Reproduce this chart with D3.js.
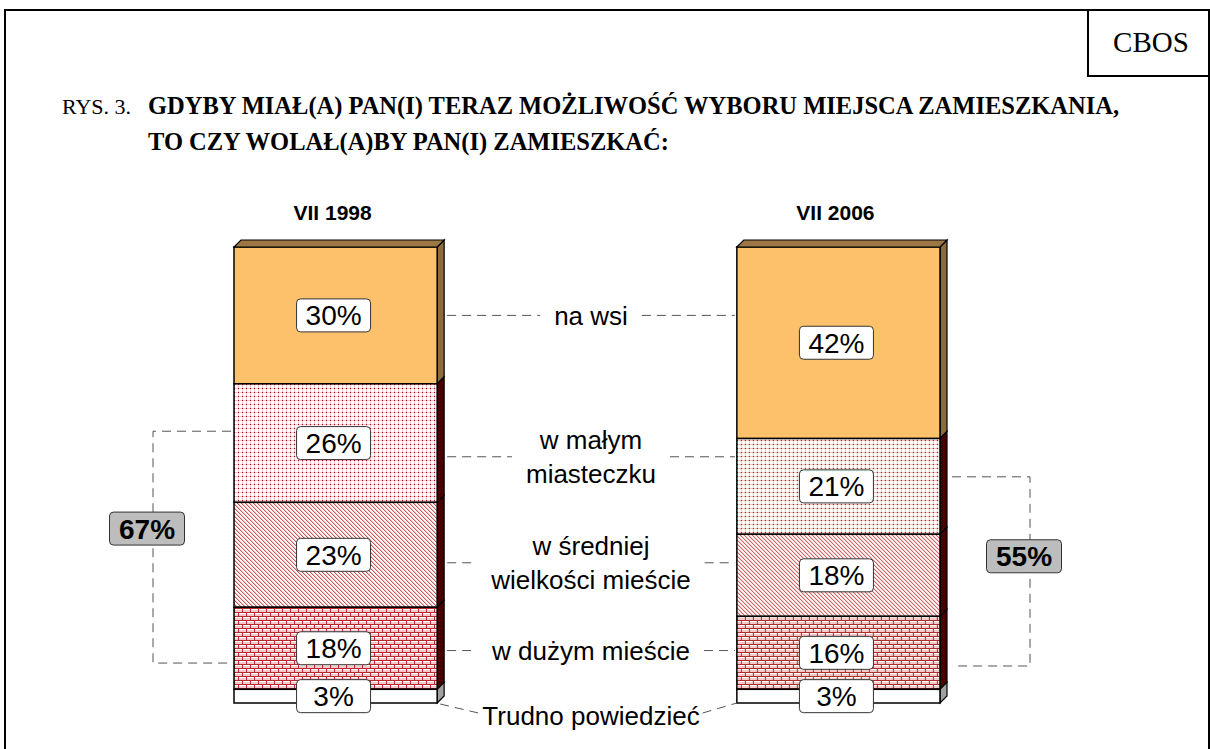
<!DOCTYPE html>
<html>
<head>
<meta charset="utf-8">
<script src="https://cdn.jsdelivr.net/npm/d3@7"></script>
<style>
  body { margin: 0; background: #fff; }
  svg { display: block; }
</style>
</head>
<body>
<svg></svg>
<script>
// CBOS rys. 3 – preferowane miejsce zamieszkania, 1998 vs 2006

const width = 1210;
const height = 749;

const years = ["VII 1998", "VII 2006"];
const categories = ["na wsi", "w małym miasteczku", "w średniej wielkości mieście", "w dużym mieście", "Trudno powiedzieć"];
const categoryLines = [["na wsi"], ["w małym", "miasteczku"], ["w średniej", "wielkości mieście"], ["w dużym mieście"], ["Trudno powiedzieć"]];
const values1998 = [30, 26, 23, 18, 3];
const values2006 = [42, 21, 18, 16, 3];
const cityIdx = [1, 2, 3]; // składowe sumy w nawiasie (miasta)

const fills = ["#fdc06b", "url(#p-grid)", "url(#p-diag)", "url(#p-brick)", "#ffffff"];
const sides = ["#8c6b3c", "#460000", "#460000", "#460000", "#a0a0a0"];
const depth = 7;
const sans = "Arial, 'Liberation Sans', sans-serif";
const serif = "'Times New Roman', 'Liberation Serif', serif";

const svg = d3.select("svg")
  .attr("width", width)
  .attr("height", height);

// wzory wypełnień
const defs = svg.append("defs");

const pGrid = defs.append("pattern").attr("id", "p-grid")
  .attr("patternUnits", "userSpaceOnUse").attr("width", 4).attr("height", 4);
pGrid.append("rect").attr("width", 4).attr("height", 4).attr("fill", "#fff");
pGrid.append("rect").attr("width", 4).attr("height", 1).attr("fill", "#f2c6c6");
pGrid.append("rect").attr("width", 1).attr("height", 4).attr("fill", "#f2c6c6");
pGrid.append("rect").attr("width", 1).attr("height", 1).attr("fill", "#a01414");

const pDiag = defs.append("pattern").attr("id", "p-diag")
  .attr("patternUnits", "userSpaceOnUse").attr("width", 4).attr("height", 4);
pDiag.append("rect").attr("width", 4).attr("height", 4).attr("fill", "#fff");
d3.range(4).forEach(i => {
  pDiag.append("rect").attr("x", i).attr("y", i).attr("width", 1).attr("height", 1).attr("fill", "#c65656");
  pDiag.append("rect").attr("x", (i + 1) % 4).attr("y", i).attr("width", 1).attr("height", 1).attr("fill", "#efc0c0");
});

const pBrick = defs.append("pattern").attr("id", "p-brick")
  .attr("patternUnits", "userSpaceOnUse").attr("width", 8).attr("height", 8);
pBrick.append("rect").attr("width", 8).attr("height", 8).attr("fill", "#f2cccc");
pBrick.append("rect").attr("y", 1).attr("width", 8).attr("height", 1).attr("fill", "#fff");
pBrick.append("rect").attr("y", 5).attr("width", 8).attr("height", 1).attr("fill", "#fff");
pBrick.append("rect").attr("width", 8).attr("height", 1).attr("fill", "#b42a2a");
pBrick.append("rect").attr("y", 4).attr("width", 8).attr("height", 1).attr("fill", "#b42a2a");
pBrick.append("rect").attr("width", 1).attr("height", 4).attr("fill", "#b42a2a");
pBrick.append("rect").attr("x", 4).attr("y", 4).attr("width", 1).attr("height", 4).attr("fill", "#b42a2a");

// ramka i nagłówek
svg.append("rect")
  .attr("x", 5).attr("y", 10)
  .attr("width", 1204).attr("height", 780)
  .attr("fill", "none").attr("stroke", "#000").attr("stroke-width", 2);

svg.append("path")
  .attr("d", "M1088,10V76H1210")
  .attr("fill", "none").attr("stroke", "#000").attr("stroke-width", 2);

svg.append("text")
  .attr("x", 1151).attr("y", 52)
  .attr("text-anchor", "middle")
  .attr("font-family", serif)
  .attr("font-size", 29)
  .text("CBOS");

const title = svg.append("g")
  .attr("font-family", serif)
  .attr("font-size", 24.5);
title.append("text").attr("x", 62).attr("y", 114).attr("font-size", 22).text("RYS. 3.");
title.append("text").attr("x", 148).attr("y", 114).attr("font-weight", "bold")
  .text("GDYBY MIAŁ(A) PAN(I) TERAZ MOŻLIWOŚĆ WYBORU MIEJSCA ZAMIESZKANIA,");
title.append("text").attr("x", 148).attr("y", 150).attr("font-weight", "bold")
  .text("TO CZY WOLAŁ(A)BY PAN(I) ZAMIESZKAĆ:");

// skale
const x = d3.scaleBand()
  .domain(years)
  .range([234, 940])
  .paddingInner(0.596);

const y = d3.scaleLinear()
  .domain([0, 100])
  .range([247, 703]);

const bw = x.bandwidth();

const stacks = [values1998, values2006].map((vals, j) => {
  const ends = d3.cumsum(vals);
  return vals.map((v, i) => ({ year: years[j], i, v, y0: ends[i] - v, y1: ends[i] }));
});

// słupki 3D
const bars = svg.append("g")
  .selectAll("g")
  .data(stacks)
  .join("g")
  .attr("transform", (d, j) => `translate(${x(years[j])},0)`);

bars.selectAll("path.side")
  .data(d => d)
  .join("path")
  .attr("class", "side")
  .attr("fill", d => sides[d.i])
  .attr("stroke", "#000")
  .attr("stroke-width", 1.2)
  .attr("d", d => `M${bw},${y(d.y0)}L${bw + depth},${y(d.y0) - depth}L${bw + depth},${y(d.y1) - depth}L${bw},${y(d.y1)}Z`);

bars.selectAll("rect.front")
  .data(d => d)
  .join("rect")
  .attr("class", "front")
  .attr("x", 0)
  .attr("y", d => y(d.y0))
  .attr("width", bw)
  .attr("height", d => y(d.y1) - y(d.y0))
  .attr("fill", d => fills[d.i])
  .attr("stroke", "#000")
  .attr("stroke-width", 1.5);

bars.append("path")
  .attr("fill", "#9c7744")
  .attr("stroke", "#000")
  .attr("stroke-width", 1.2)
  .attr("d", `M0,${y(0)}L${depth},${y(0) - depth}L${bw + depth},${y(0) - depth}L${bw},${y(0)}Z`);

// etykiety wartości
const valueLabels = bars.selectAll("g.val")
  .data(d => d)
  .join("g")
  .attr("class", "val")
  .attr("transform", d => `translate(${bw / 2 - 2},${y((d.y0 + d.y1) / 2)})`);

valueLabels.append("rect")
  .attr("x", -37).attr("y", -16.5)
  .attr("width", 74).attr("height", 33)
  .attr("rx", 4)
  .attr("fill", "#fff")
  .attr("stroke", "#333")
  .attr("stroke-width", 1);

valueLabels.append("text")
  .attr("text-anchor", "middle")
  .attr("dy", "0.36em")
  .attr("font-family", sans)
  .attr("font-size", 28)
  .text(d => `${d.v}%`);

// nagłówki lat
svg.append("g")
  .selectAll("text")
  .data(years)
  .join("text")
  .attr("x", d => x(d) + bw / 2 - 3)
  .attr("y", 220)
  .attr("text-anchor", "middle")
  .attr("font-family", sans)
  .attr("font-weight", "bold")
  .attr("font-size", 21)
  .text(d => d);

// środkowe opisy kategorii z przerywanymi łącznikami
const leftEdge = x(years[0]) + bw + depth + 3;
const rightEdge = x(years[1]) - 2;
const midX = (leftEdge + rightEdge) / 2;
const dash = "9,6";
const lineH = 34;

const mid = svg.append("g")
  .attr("font-family", sans)
  .attr("font-size", 26);

categories.forEach((cat, i) => {
  const a = stacks[0][i], b = stacks[1][i];
  const last = i === categories.length - 1;
  let ly;
  if (last) {
    ly = y(100) + 13;
  } else {
    const leftC = y((a.y0 + a.y1) / 2);
    const overlapC = (y(Math.max(a.y0, b.y0)) + y(Math.min(a.y1, b.y1))) / 2;
    ly = (leftC + overlapC) / 2;
  }
  const lines = categoryLines[i];
  const t = mid.append("text")
    .attr("x", midX)
    .attr("text-anchor", "middle");
  lines.forEach((s, k) => {
    t.append("tspan")
      .attr("x", midX)
      .attr("y", ly + (k - (lines.length - 1) / 2) * lineH)
      .attr("dy", "0.35em")
      .text(s);
  });
  const bb = t.node().getBBox();
  const segs = last
    ? [[x(years[0]) + bw + 3, y(100) + 1, bb.x - 4, ly - 3], [bb.x + bb.width + 3, ly - 3, x(years[1]), y(100)]]
    : [[leftEdge, ly, bb.x - 14, ly], [bb.x + bb.width + 14, ly, rightEdge, ly]];
  segs.forEach(([x1, y1, x2, y2]) => {
    mid.append("line")
      .attr("x1", x1).attr("y1", y1).attr("x2", x2).attr("y2", y2)
      .attr("stroke", "#555")
      .attr("stroke-width", 1)
      .attr("stroke-dasharray", dash);
  });
});

// nawiasy z sumą dla miast
const bracketLen = 78;
stacks.forEach((s, j) => {
  const first = s[cityIdx[0]], lastSeg = s[cityIdx[cityIdx.length - 1]];
  const top = y(first.y0 + first.v * 0.4);
  const bot = y(lastSeg.y0 + lastSeg.v * 0.68);
  const x0 = j === 0 ? x(years[0]) - 3 : x(years[1]) + bw + depth + 5;
  const xl = j === 0 ? x0 - bracketLen : x0 + bracketLen;
  const total = d3.sum(cityIdx, i => s[i].v);

  svg.append("path")
    .attr("d", `M${x0},${top}H${xl}V${bot}H${x0}`)
    .attr("fill", "none")
    .attr("stroke", "#555")
    .attr("stroke-width", 1)
    .attr("stroke-dasharray", dash);

  const g = svg.append("g")
    .attr("transform", `translate(${xl - 6},${top + (bot - top) * 0.42})`);
  g.append("rect")
    .attr("x", -37.5).attr("y", -16.5)
    .attr("width", 75).attr("height", 33)
    .attr("rx", 4)
    .attr("fill", "#bdbdbd")
    .attr("stroke", "#333")
    .attr("stroke-width", 1);
  g.append("text")
    .attr("text-anchor", "middle")
    .attr("dy", "0.36em")
    .attr("font-family", sans)
    .attr("font-weight", "bold")
    .attr("font-size", 28)
    .text(`${total}%`);
});
</script>
</body>
</html>
